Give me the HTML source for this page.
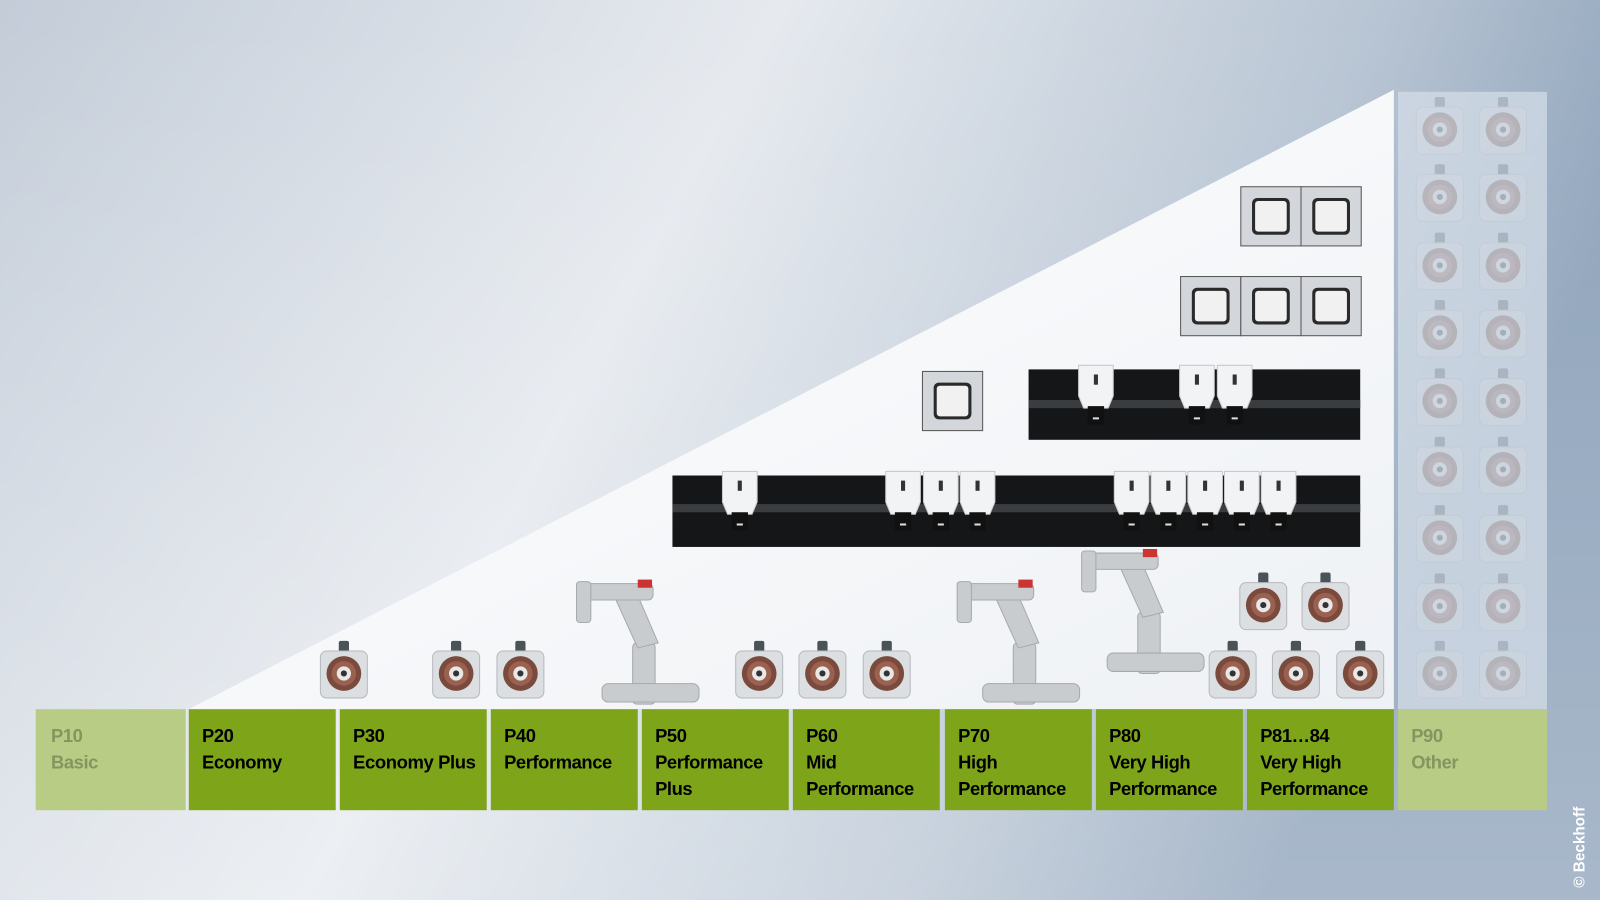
<!DOCTYPE html>
<html><head><meta charset="utf-8"><style>
html,body{margin:0;padding:0;width:1600px;height:900px;overflow:hidden}
svg{display:block}
text{font-family:"Liberation Sans",sans-serif;font-weight:bold}
</style></head><body>
<svg width="1600" height="900" viewBox="0 0 1568 882" xmlns="http://www.w3.org/2000/svg">
<defs>
<linearGradient id="bg" x1="0" y1="0" x2="1" y2="0.3">
<stop offset="0" stop-color="#c3ccd8"/><stop offset="0.45" stop-color="#e6eaef"/><stop offset="0.8" stop-color="#b7c4d3"/><stop offset="1" stop-color="#8ca1b9"/>
</linearGradient>
<linearGradient id="bg2" x1="0" y1="0" x2="0" y2="1">
<stop offset="0" stop-color="#fff" stop-opacity="0"/><stop offset="1" stop-color="#fff" stop-opacity="0.25"/>
</linearGradient>
<linearGradient id="tri" x1="0" y1="0" x2="1" y2="1">
<stop offset="0" stop-color="#ffffff"/><stop offset="1" stop-color="#eef1f5"/>
</linearGradient>
<g id="motor">
<rect x="-5" y="-32" width="10" height="12" rx="2" fill="#4a5358"/>
<rect x="-23" y="-22" width="46" height="46" rx="6" fill="#dcdfe2" stroke="#b5b9bd"/>
<circle r="17" fill="#7a4a3c"/><circle r="12" fill="#9a6050"/>
<circle r="7" fill="#e8e8e8"/><circle r="3" fill="#333"/>
</g>
<g id="carrier">
<path d="M-17 -4 H17 V26 L12 38 H-12 L-17 26 Z" fill="#f2f3f4" stroke="#c7c9cc"/>
<rect x="-8" y="36" width="16" height="18" fill="#111"/>
<rect x="-3" y="47" width="6" height="2" fill="#ddd"/>
<rect x="-2" y="5" width="4" height="10" fill="#333"/>
</g>
<g id="drive">
<rect x="0" y="0" width="59" height="58" fill="#d3d6da" stroke="#555" stroke-width="1"/>
<rect x="11" y="11" width="37" height="36" rx="5" fill="#2a2a2a"/>
<rect x="14" y="14" width="31" height="30" rx="3" fill="#f1f1f1"/>
</g>
<g id="robot" fill="#c9cccf" stroke="#a6a9ad">
<rect x="-10" y="40" width="22" height="60" rx="4"/>
<rect x="-40" y="80" width="95" height="18" rx="6"/>
<path d="M-5 45 L-30 -10 L-10 -18 L15 40 Z"/>
<rect x="-60" y="-18" width="70" height="16" rx="5"/>
<rect x="-65" y="-20" width="14" height="40" rx="3"/>
<rect x="-5" y="-22" width="14" height="8" fill="#c33" stroke="none"/>
</g>
</defs>
<rect width="1568" height="882" fill="url(#bg)"/>
<rect width="1568" height="882" fill="url(#bg2)"/>
<rect x="1370" y="90" width="146" height="605" fill="#d3dce7" opacity="0.75"/>
<polygon points="185,695 1366,88 1366,695" fill="url(#tri)"/>
<g opacity="0.22">
<use href="#motor" x="1411" y="127"/><use href="#motor" x="1473" y="127"/>
<use href="#motor" x="1411" y="193"/><use href="#motor" x="1473" y="193"/>
<use href="#motor" x="1411" y="260"/><use href="#motor" x="1473" y="260"/>
<use href="#motor" x="1411" y="326"/><use href="#motor" x="1473" y="326"/>
<use href="#motor" x="1411" y="393"/><use href="#motor" x="1473" y="393"/>
<use href="#motor" x="1411" y="460"/><use href="#motor" x="1473" y="460"/>
<use href="#motor" x="1411" y="527"/><use href="#motor" x="1473" y="527"/>
<use href="#motor" x="1411" y="594"/><use href="#motor" x="1473" y="594"/>
<use href="#motor" x="1411" y="660"/><use href="#motor" x="1473" y="660"/>
</g>
<use href="#drive" x="1216" y="183"/><use href="#drive" x="1275" y="183"/>
<use href="#drive" x="1157" y="271"/><use href="#drive" x="1216" y="271"/><use href="#drive" x="1275" y="271"/>
<use href="#drive" x="904" y="364"/>
<rect x="1008" y="362" width="325" height="69" fill="#151617"/>
<rect x="1008" y="392" width="325" height="8" fill="#3a3d40"/>
<use href="#carrier" x="1074" y="362"/><use href="#carrier" x="1173" y="362"/><use href="#carrier" x="1210" y="362"/>
<rect x="659" y="466" width="674" height="70" fill="#151617"/>
<rect x="659" y="494" width="674" height="8" fill="#3a3d40"/>
<use href="#carrier" x="725" y="466"/><use href="#carrier" x="885" y="466"/><use href="#carrier" x="922" y="466"/><use href="#carrier" x="958" y="466"/>
<use href="#carrier" x="1109" y="466"/><use href="#carrier" x="1145" y="466"/><use href="#carrier" x="1181" y="466"/><use href="#carrier" x="1217" y="466"/><use href="#carrier" x="1253" y="466"/>
<use href="#robot" x="630" y="590"/><use href="#robot" x="1003" y="590"/><use href="#robot" x="1125" y="560"/>
<use href="#motor" x="337" y="660"/><use href="#motor" x="447" y="660"/><use href="#motor" x="510" y="660"/>
<use href="#motor" x="744" y="660"/><use href="#motor" x="806" y="660"/><use href="#motor" x="869" y="660"/>
<use href="#motor" x="1208" y="660"/><use href="#motor" x="1270" y="660"/><use href="#motor" x="1333" y="660"/>
<use href="#motor" x="1238" y="593"/><use href="#motor" x="1299" y="593"/>
<g font-size="18" letter-spacing="-0.4">
<rect x="35" y="695" width="147" height="99" fill="#b9cc86"/>
<text x="50" y="727" fill="#86955f">P10</text><text x="50" y="753" fill="#86955f">Basic</text>
<rect x="185" y="695" width="144" height="99" fill="#7ea51a"/>
<text x="198" y="727">P20</text><text x="198" y="753">Economy</text>
<rect x="333" y="695" width="144" height="99" fill="#7ea51a"/>
<text x="346" y="727">P30</text><text x="346" y="753" textLength="120" lengthAdjust="spacingAndGlyphs">Economy Plus</text>
<rect x="481" y="695" width="144" height="99" fill="#7ea51a"/>
<text x="494" y="727">P40</text><text x="494" y="753">Performance</text>
<rect x="629" y="695" width="144" height="99" fill="#7ea51a"/>
<text x="642" y="727">P50</text><text x="642" y="753">Performance</text><text x="642" y="779">Plus</text>
<rect x="777" y="695" width="144" height="99" fill="#7ea51a"/>
<text x="790" y="727">P60</text><text x="790" y="753">Mid</text><text x="790" y="779">Performance</text>
<rect x="926" y="695" width="144" height="99" fill="#7ea51a"/>
<text x="939" y="727">P70</text><text x="939" y="753">High</text><text x="939" y="779">Performance</text>
<rect x="1074" y="695" width="144" height="99" fill="#7ea51a"/>
<text x="1087" y="727">P80</text><text x="1087" y="753">Very High</text><text x="1087" y="779">Performance</text>
<rect x="1222" y="695" width="144" height="99" fill="#7ea51a"/>
<text x="1235" y="727">P81…84</text><text x="1235" y="753">Very High</text><text x="1235" y="779">Performance</text>
<rect x="1370" y="695" width="146" height="99" fill="#b9cc86"/>
<text x="1383" y="727" fill="#86955f">P90</text><text x="1383" y="753" fill="#86955f">Other</text>
</g>
<text transform="translate(1553,870) rotate(-90)" font-size="15" fill="#fff">© Beckhoff</text>
</svg>
</body></html>
